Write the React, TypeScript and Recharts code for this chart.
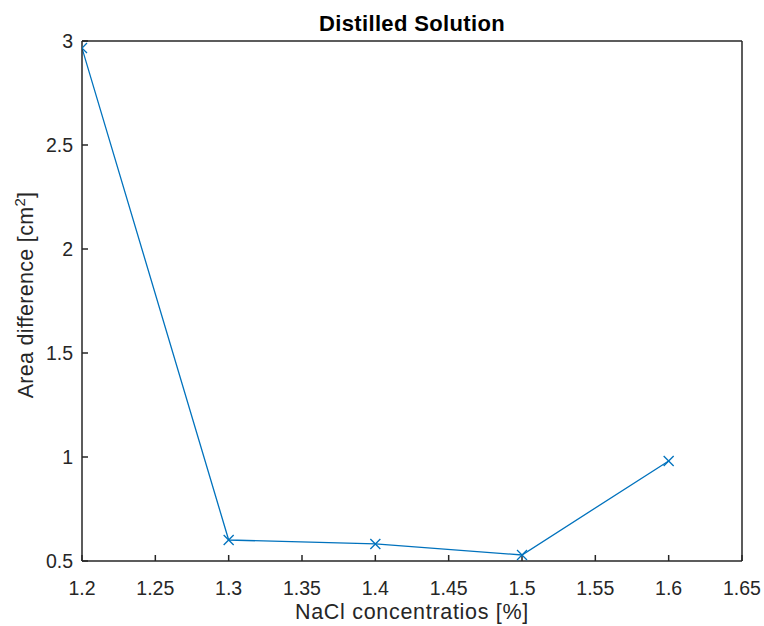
import React from 'react';
import { LineChart, Line, XAxis, YAxis, Label } from 'recharts';

const concentrations = [1.2, 1.3, 1.4, 1.5, 1.6];
const areaDifference = [2.966, 0.601, 0.582, 0.529, 0.981];
const xTicks = [1.2, 1.25, 1.3, 1.35, 1.4, 1.45, 1.5, 1.55, 1.6, 1.65];
const yTicks = [0.5, 1, 1.5, 2, 2.5, 3];
const titleText = 'Distilled Solution';
const xLabelText = 'NaCl concentratios [%]';

const data = concentrations.map((c, i) => ({ x: c, y: areaDifference[i] }));

const FONT = '"Liberation Sans", Arial, Helvetica, sans-serif';
const INK = '#262626';
const BLUE = '#0072BD';

const XMarker = (props: any) => {
  const { cx, cy } = props;
  if (cx == null || cy == null) return null;
  const s = 5;
  return (
    <g>
      <line x1={cx - s} y1={cy - s} x2={cx + s} y2={cy + s} stroke={BLUE} strokeWidth={1.3} />
      <line x1={cx - s} y1={cy + s} x2={cx + s} y2={cy - s} stroke={BLUE} strokeWidth={1.3} />
    </g>
  );
};

export default function App() {
  return (
    <div style={{ position: 'absolute', left: 0, top: 0, background: '#fff' }}>
      <LineChart
        width={764}
        height={626}
        data={data}
        margin={{ top: 40, right: 21, bottom: 0, left: 0 }}
      >
        <XAxis
          xAxisId="bottom"
          dataKey="x"
          type="number"
          domain={[1.2, 1.65]}
          ticks={xTicks}
          allowDataOverflow
          height={65}
          tickSize={-6}
          tickMargin={26}
          stroke={INK}
          strokeWidth={1.5}
          tick={{ fill: INK, fontSize: 19.5, fontFamily: FONT }}
        >
          <Label
            content={(p: any) => {
              const vb = p.viewBox;
              return (
                <text
                  x={vb.x + vb.width / 2}
                  y={vb.y + 58}
                  textAnchor="middle"
                  fill={INK}
                  fontSize={21.5}
                  letterSpacing={0.7}
                  fontFamily={FONT}
                >
                  {xLabelText}
                </text>
              );
            }}
          />
        </XAxis>
        <XAxis
          xAxisId="top"
          orientation="top"
          dataKey="x"
          type="number"
          domain={[1.2, 1.65]}
          ticks={xTicks}
          allowDataOverflow
          height={1}
          tickSize={-6}
          tick={false}
          stroke={INK}
          strokeWidth={1.5}
        >
          <Label
            content={(p: any) => {
              const vb = p.viewBox;
              return (
                <text
                  x={vb.x + vb.width / 2}
                  y={vb.y - 9}
                  textAnchor="middle"
                  fill="#000"
                  fontSize={22}
                  letterSpacing={0.35}
                  fontWeight="bold"
                  fontFamily={FONT}
                >
                  {titleText}
                </text>
              );
            }}
          />
        </XAxis>
        <YAxis
          yAxisId="left"
          type="number"
          domain={[0.5, 3]}
          ticks={yTicks}
          allowDataOverflow
          width={82}
          tickSize={-6}
          tickMargin={15}
          stroke={INK}
          strokeWidth={1.5}
          tick={{ fill: INK, fontSize: 19.5, fontFamily: FONT }}
        >
          <Label
            content={(p: any) => {
              const vb = p.viewBox;
              const cx = 33;
              const cy = vb.y + vb.height / 2 - 6;
              return (
                <text
                  x={cx}
                  y={cy}
                  transform={`rotate(-90 ${cx} ${cy})`}
                  textAnchor="middle"
                  fill={INK}
                  fontSize={21.5}
                  letterSpacing={0.3}
                  fontFamily={FONT}
                >
                  <tspan>Area difference [cm</tspan>
                  <tspan dy={-8} fontSize={15}>2</tspan>
                  <tspan dy={8}>]</tspan>
                </text>
              );
            }}
          />
        </YAxis>
        <YAxis
          yAxisId="right"
          orientation="right"
          type="number"
          domain={[0.5, 3]}
          ticks={yTicks}
          allowDataOverflow
          width={1}
          tickSize={-6}
          tick={false}
          stroke={INK}
          strokeWidth={1.5}
        />
        <Line
          xAxisId="bottom"
          yAxisId="left"
          type="linear"
          dataKey="y"
          stroke={BLUE}
          strokeWidth={1.3}
          dot={<XMarker />}
          activeDot={false}
          isAnimationActive={false}
        />
      </LineChart>
    </div>
  );
}
